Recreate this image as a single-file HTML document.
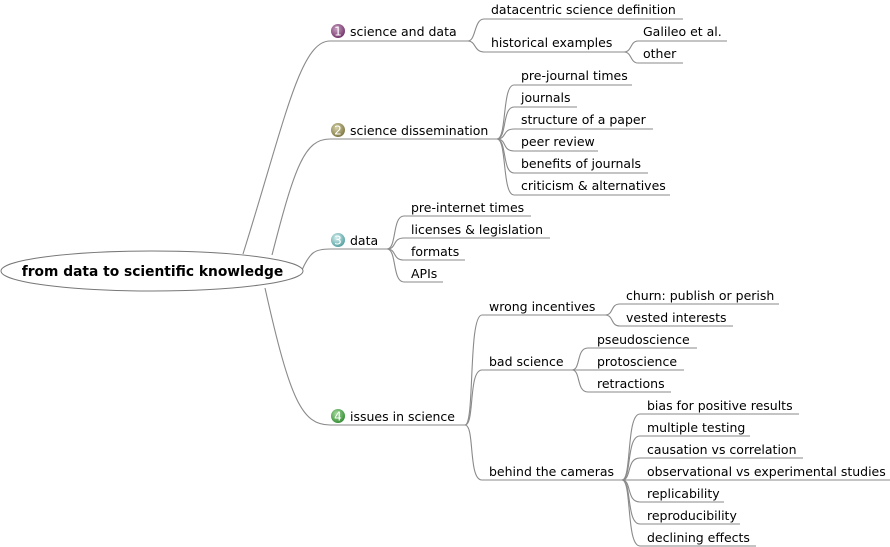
<!DOCTYPE html>
<html><head><meta charset="utf-8"><style>
html,body{margin:0;padding:0;background:#fff;}
svg{display:block;}
text{font-family:"DejaVu Sans","Liberation Sans",sans-serif;font-size:12.5px;fill:#000;}
path{fill:none;stroke:#8a8a8a;stroke-width:1.1;}
</style></head><body>
<svg width="890" height="547" viewBox="0 0 890 547" xmlns="http://www.w3.org/2000/svg">
<defs>
<radialGradient id="g1" cx="0.4" cy="0.35" r="0.7"><stop offset="0" stop-color="#c9a0c2"/><stop offset="1" stop-color="#6e2f66"/></radialGradient>
<radialGradient id="g2" cx="0.4" cy="0.35" r="0.7"><stop offset="0" stop-color="#d6d0a8"/><stop offset="1" stop-color="#7a7340"/></radialGradient>
<radialGradient id="g3" cx="0.4" cy="0.35" r="0.7"><stop offset="0" stop-color="#d8f0f0"/><stop offset="1" stop-color="#4f9c9c"/></radialGradient>
<radialGradient id="g4" cx="0.4" cy="0.35" r="0.7"><stop offset="0" stop-color="#a8dca0"/><stop offset="1" stop-color="#2f8a2f"/></radialGradient>
</defs>
<path d="M243,254 C285,120 300,41 330,41 H468"/>
<path d="M272,255 C295,165 305,139 330,139 H497"/>
<path d="M302,270 C310,252 315,249 330,249 H387"/>
<path d="M265,288 C290,400 302,425 330,425 H465"/>
<ellipse cx="152" cy="271" rx="151" ry="20" fill="#fff" stroke="#777" stroke-width="1"/>
<text x="152.5" y="276" text-anchor="middle" style="font-weight:bold;font-size:13.8px">from data to scientific knowledge</text>
<circle cx="338" cy="31" r="7" fill="url(#g1)"/><text x="338" y="35.5" text-anchor="middle" style="font-size:12px;fill:#fff">1</text>
<circle cx="338" cy="130" r="7" fill="url(#g2)"/><text x="338" y="134.5" text-anchor="middle" style="font-size:12px;fill:#fff">2</text>
<circle cx="338" cy="240" r="7" fill="url(#g3)"/><text x="338" y="244.5" text-anchor="middle" style="font-size:12px;fill:#fff">3</text>
<circle cx="338" cy="416" r="7" fill="url(#g4)"/><text x="338" y="420.5" text-anchor="middle" style="font-size:12px;fill:#fff">4</text>
<text x="350" y="36">science and data</text>
<text x="350" y="135">science dissemination</text>
<text x="350" y="245">data</text>
<text x="350" y="421">issues in science</text>
<path d="M468,41 C476,41 474,19 484,19 H683"/><text x="491" y="14">datacentric science definition</text>
<path d="M468,41 C476,41 474,52 484,52 H624"/><text x="491" y="47">historical examples</text>
<path d="M624,52 C632,52 630,41 638,41 H727"/><text x="643" y="36">Galileo et al.</text>
<path d="M624,52 C632,52 630,63 638,63 H683"/><text x="643" y="58">other</text>
<path d="M497,139 C507,139 502,85 514,85 H632"/><text x="521" y="80">pre-journal times</text>
<path d="M497,139 C507,139 502,107 514,107 H577"/><text x="521" y="102">journals</text>
<path d="M497,139 C507,139 502,129 514,129 H653"/><text x="521" y="124">structure of a paper</text>
<path d="M497,139 C507,139 502,151 514,151 H598"/><text x="521" y="146">peer review</text>
<path d="M497,139 C507,139 502,173 514,173 H648"/><text x="521" y="168">benefits of journals</text>
<path d="M497,139 C507,139 502,195 514,195 H670"/><text x="521" y="190">criticism &amp; alternatives</text>
<path d="M387,249 C397,249 392,216 404,216 H531"/><text x="411" y="212">pre-internet times</text>
<path d="M387,249 C397,249 392,238 404,238 H550"/><text x="411" y="234">licenses &amp; legislation</text>
<path d="M387,249 C397,249 392,260 404,260 H465"/><text x="411" y="256">formats</text>
<path d="M387,249 C397,249 392,282 404,282 H443"/><text x="411" y="278">APIs</text>
<path d="M465,425 C475,425 468,315 482,315 H605"/><text x="489" y="311">wrong incentives</text>
<path d="M465,425 C475,425 468,370 482,370 H572"/><text x="489" y="366">bad science</text>
<path d="M465,425 C475,425 468,480 482,480 H622"/><text x="489" y="476">behind the cameras</text>
<path d="M605,315 C614,315 610,304 620,304 H779"/><text x="626" y="300">churn: publish or perish</text>
<path d="M605,315 C614,315 610,326 620,326 H733"/><text x="626" y="322">vested interests</text>
<path d="M572,370 C581,370 576,348 588,348 H697"/><text x="597" y="344">pseudoscience</text>
<path d="M572,370 C581,370 576,370 588,370 H684"/><text x="597" y="366">protoscience</text>
<path d="M572,370 C581,370 576,392 588,392 H671"/><text x="597" y="388">retractions</text>
<path d="M622,480 C632,480 626,414 640,414 H799"/><text x="647" y="410">bias for positive results</text>
<path d="M622,480 C632,480 626,436 640,436 H750"/><text x="647" y="432">multiple testing</text>
<path d="M622,480 C632,480 626,458 640,458 H803"/><text x="647" y="454">causation vs correlation</text>
<path d="M622,480 C632,480 626,480 640,480 H890"/><text x="647" y="476">observational vs experimental studies</text>
<path d="M622,480 C632,480 626,502 640,502 H724"/><text x="647" y="498">replicability</text>
<path d="M622,480 C632,480 626,524 640,524 H740"/><text x="647" y="520">reproducibility</text>
<path d="M622,480 C632,480 626,546 640,546 H756"/><text x="647" y="542">declining effects</text>
</svg>
</body></html>
